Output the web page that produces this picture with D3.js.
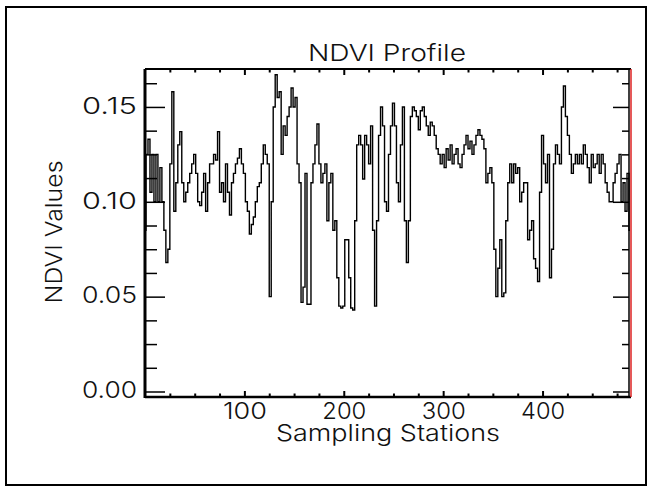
<!DOCTYPE html>
<html><head><meta charset="utf-8">
<script src="https://cdn.jsdelivr.net/npm/d3@7"></script>
<style>
html,body{margin:0;padding:0;background:#fff;}
svg{display:block;}
text{font-family:Inter,"DejaVu Sans",sans-serif;font-weight:300;fill:#111;}
</style></head>
<body>
<svg id="chart" width="652" height="489"></svg>
<script>
// ---- data ----
const stationStep = 2;
const ndviValues = [
0.085,0.125,0.133,0.105,0.125,0.100,0.125,0.100,0.118,0.100,
0.085,0.068,0.075,0.120,0.158,0.095,0.110,0.130,0.137,0.110,
0.100,0.105,0.110,0.115,0.120,0.125,0.115,0.100,0.098,0.105,
0.115,0.095,0.110,0.120,0.120,0.125,0.122,0.137,0.105,0.110,
0.100,0.120,0.105,0.093,0.110,0.115,0.120,0.123,0.128,0.120,
0.115,0.100,0.095,0.083,0.088,0.092,0.100,0.108,0.110,0.120,
0.130,0.125,0.120,0.050,0.100,0.150,0.167,0.155,0.158,0.125,
0.140,0.135,0.145,0.150,0.160,0.150,0.155,0.120,0.110,0.047,
0.055,0.115,0.046,0.046,0.110,0.120,0.130,0.141,0.120,0.110,
0.115,0.120,0.090,0.110,0.115,0.085,0.090,0.060,0.045,0.044,
0.045,0.080,0.080,0.060,0.044,0.043,0.090,0.130,0.135,0.130,
0.112,0.135,0.130,0.120,0.140,0.085,0.045,0.090,0.135,0.150,
0.140,0.100,0.095,0.125,0.140,0.152,0.140,0.110,0.100,0.130,
0.150,0.090,0.068,0.090,0.145,0.150,0.148,0.145,0.138,0.148,
0.150,0.145,0.140,0.135,0.142,0.140,0.135,0.128,0.125,0.120,
0.125,0.118,0.128,0.122,0.130,0.120,0.125,0.128,0.120,0.118,
0.125,0.130,0.135,0.128,0.132,0.125,0.130,0.135,0.138,0.135,
0.133,0.128,0.110,0.115,0.118,0.110,0.075,0.050,0.065,0.080,
0.050,0.052,0.090,0.110,0.120,0.110,0.120,0.115,0.118,0.100,
0.105,0.110,0.110,0.080,0.085,0.090,0.070,0.065,0.058,0.105,
0.135,0.120,0.110,0.125,0.060,0.075,0.120,0.130,0.125,0.120,
0.150,0.161,0.145,0.135,0.125,0.115,0.120,0.125,0.120,0.125,
0.120,0.130,0.125,0.118,0.110,0.125,0.118,0.120,0.125,0.115,
0.125,0.120,0.110,0.105,0.100,0.100,0.110,0.115,0.120,0.125,
0.100,0.110,0.095,0.115,0.085
];
const stations = ndviValues.map((v,i)=>i*stationStep);
const xMajorTicks = [100,200,300,400];
const xMinorTicks = [25,50,75,125,150,175,225,250,275,325,350,375,425,450,475];
const yMajorTicks = [0.00,0.05,0.10,0.15];
const yMinorTicks = [0.0125,0.025,0.0375,0.0625,0.075,0.0875,0.1125,0.125,0.1375,0.1625];
const titleText = "NDVI Profile";
const xTitle = "Sampling Stations";
const yTitle = "NDVI Values";

// ---- layout ----
const svg = d3.select("#chart");
const L=145, R=631, T=69, B=397;
const FS=23;
const x = d3.scaleLinear().domain([0,489]).range([L,R]);
const y = d3.scaleLinear().domain([0,0.17]).range([391.5,T]);

// outer border
svg.append("rect").attr("x",6).attr("y",7).attr("width",640).attr("height",478)
  .attr("fill","none").attr("stroke","#000").attr("stroke-width",2);

// data line
const line = d3.line().x((d,i)=>x(stations[i])).y(d=>y(d)).curve(d3.curveStep);
svg.append("path").datum(ndviValues).attr("d",line)
  .attr("fill","none").attr("stroke","#000").attr("stroke-width",1.4);

function noDomain(g){g.select(".domain").remove();}
// bottom axis
svg.append("g").attr("transform",`translate(0,${B})`)
  .call(d3.axisBottom(x).tickValues(xMajorTicks).tickSize(-6).tickFormat(d3.format("d")))
  .call(noDomain)
  .call(g=>g.selectAll("text").attr("font-size",FS).attr("fill","#111").attr("dy",null).attr("y",22)
      .attr("textLength",44).attr("lengthAdjust","spacingAndGlyphs"))
  .call(g=>g.selectAll("line").attr("stroke","#000").attr("stroke-width",2));
svg.append("g").attr("transform",`translate(0,${B})`)
  .call(d3.axisBottom(x).tickValues(xMinorTicks).tickSize(-3.5).tickFormat(""))
  .call(noDomain).call(g=>g.selectAll("line").attr("stroke","#000").attr("stroke-width",2));
// top axis
svg.append("g").attr("transform",`translate(0,${T})`)
  .call(d3.axisTop(x).tickValues(xMajorTicks).tickSize(-6).tickFormat(""))
  .call(noDomain).call(g=>g.selectAll("line").attr("stroke","#000").attr("stroke-width",2));
svg.append("g").attr("transform",`translate(0,${T})`)
  .call(d3.axisTop(x).tickValues(xMinorTicks).tickSize(-3.5).tickFormat(""))
  .call(noDomain).call(g=>g.selectAll("line").attr("stroke","#000").attr("stroke-width",2));
// left axis
svg.append("g").attr("transform",`translate(${L},0)`)
  .call(d3.axisLeft(y).tickValues(yMajorTicks).tickSize(-20).tickPadding(8).tickFormat(d3.format(".2f")))
  .call(noDomain)
  .call(g=>g.selectAll("text").attr("font-size",FS).attr("fill","#111").attr("dy","0.27em")
      .attr("textLength",55).attr("lengthAdjust","spacingAndGlyphs"))
  .call(g=>g.selectAll("line").attr("stroke","#000").attr("stroke-width",1.5));
svg.append("g").attr("transform",`translate(${L},0)`)
  .call(d3.axisLeft(y).tickValues(yMinorTicks).tickSize(-12).tickFormat(""))
  .call(noDomain).call(g=>g.selectAll("line").attr("stroke","#000").attr("stroke-width",1.5));
// right axis
svg.append("g").attr("transform",`translate(${R-2},0)`)
  .call(d3.axisRight(y).tickValues(yMajorTicks).tickSize(-16).tickFormat(""))
  .call(noDomain).call(g=>g.selectAll("line").attr("stroke","#000").attr("stroke-width",1.5));
svg.append("g").attr("transform",`translate(${R-2},0)`)
  .call(d3.axisRight(y).tickValues(yMinorTicks).tickSize(-7).tickFormat(""))
  .call(noDomain).call(g=>g.selectAll("line").attr("stroke","#000").attr("stroke-width",1.5));

// frame
svg.append("line").attr("x1",L).attr("x2",L).attr("y1",T).attr("y2",B+1).attr("stroke","#000").attr("stroke-width",3);
svg.append("line").attr("x1",L).attr("x2",R).attr("y1",B).attr("y2",B).attr("stroke","#000").attr("stroke-width",2.5);
svg.append("line").attr("x1",L).attr("x2",R).attr("y1",T).attr("y2",T).attr("stroke","#000").attr("stroke-width",2);
svg.append("line").attr("x1",R-2).attr("x2",R-2).attr("y1",T).attr("y2",B).attr("stroke","#000").attr("stroke-width",1.5);
svg.append("line").attr("x1",R).attr("x2",R).attr("y1",T).attr("y2",B).attr("stroke","#d22").attr("stroke-width",1.5);

// titles
svg.append("text").attr("x",387).attr("y",61).attr("text-anchor","middle").attr("font-size",FS)
  .attr("textLength",158).attr("lengthAdjust","spacingAndGlyphs").text(titleText);
svg.append("text").attr("x",388).attr("y",441).attr("text-anchor","middle").attr("font-size",FS)
  .attr("textLength",224).attr("lengthAdjust","spacingAndGlyphs").text(xTitle);
svg.append("text").attr("transform","translate(62,232) rotate(-90)").attr("text-anchor","middle").attr("font-size",FS)
  .attr("textLength",143).attr("lengthAdjust","spacingAndGlyphs").text(yTitle);
</script>
</body></html>
